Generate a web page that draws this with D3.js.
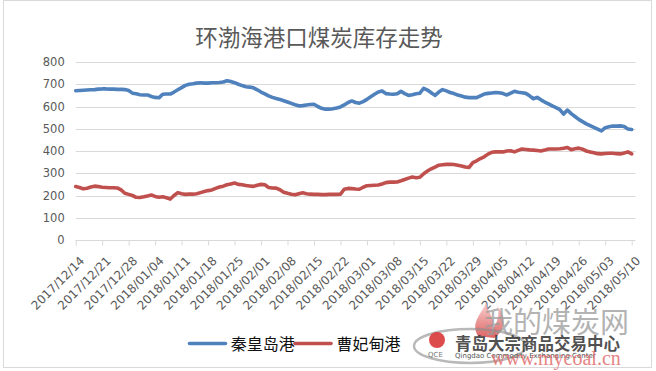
<!DOCTYPE html>
<html><head><meta charset="utf-8">
<script src="https://cdn.jsdelivr.net/npm/d3@7"></script>
<style>body{margin:0;background:#fff;}svg{display:block;}</style>
</head><body><svg id="c" width="656" height="371"></svg>
<script>
const chartTitle = "环渤海港口煤炭库存走势";
const seriesNames = ["秦皇岛港", "曹妃甸港"];
const seriesColors = ["#4F81BD", "#C0504D"];
const startDate = "2017/12/14";
// daily stocks (10k t), 2017/12/14 .. 2018/05/10
const qinhuangdao = [
671,672,673,674,675,676,678,679,679,678,
678,677,677,676,672,660,657,653,652,652,
645,641,639,655,656,656,665,675,685,695,
700,702,705,707,705,705,707,707,708,710,
716,712,707,700,694,689,687,684,675,665,
657,648,641,636,632,626,620,614,608,603,
604,607,609,610,600,592,588,588,590,593,
598,607,618,625,618,615,622,632,644,655,
665,670,658,656,655,657,668,658,650,653,
657,660,682,674,662,650,665,676,670,663,
658,652,647,642,640,640,640,648,656,659,
661,663,662,658,652,660,668,664,662,659,
648,635,641,630,620,612,603,595,586,566,
584,568,555,542,532,522,514,506,498,490,
505,509,512,512,513,510,499,497
];
const caofeidian = [
240,236,230,233,238,242,240,237,236,235,
235,234,225,210,205,200,192,191,194,198,
202,196,192,194,190,184,200,213,208,205,
206,206,208,213,218,222,225,232,238,242,
248,252,256,250,248,245,243,241,246,250,
248,236,234,233,226,215,210,206,203,208,
212,208,206,205,205,204,204,205,205,205,
206,228,232,231,229,228,237,244,245,246,
247,252,258,260,260,261,266,272,278,283,
280,282,298,310,320,328,336,338,340,340,
339,336,333,328,326,348,356,366,374,386,
394,396,396,396,400,401,396,403,409,407,
405,404,402,400,404,409,409,409,410,412,
416,406,410,413,408,400,396,392,388,387,
389,390,390,388,387,391,396,387
];
const tickLabels = ["2017/12/14","2017/12/21","2017/12/28","2018/01/04","2018/01/11","2018/01/18","2018/01/25","2018/02/01","2018/02/08","2018/02/15","2018/02/22","2018/03/01","2018/03/08","2018/03/15","2018/03/22","2018/03/29","2018/04/05","2018/04/12","2018/04/19","2018/04/26","2018/05/03","2018/05/10"];
const yTicks = [0,100,200,300,400,500,600,700,800];

const svg = d3.select("#c");
const parse = d3.timeParse("%Y/%m/%d");
const start = parse(startDate);
const dates = qinhuangdao.map((_, i) => d3.timeDay.offset(start, i));
const tickDates = tickLabels.map(parse);

const x = d3.scaleTime().domain([parse("2017/12/14"), parse("2018/05/10")]).range([75.7, 631.7]);
const y = d3.scaleLinear().domain([0, 800]).range([240, 62]);
const plotRight = 635.5;

// outer frame
svg.append("rect").attr("x", 3.5).attr("y", 0.5).attr("width", 648).attr("height", 367)
  .attr("fill", "#fff").attr("stroke", "#d9d9d9");

// title
svg.append("text").attr("x", 319).attr("y", 46).attr("text-anchor", "middle")
  .attr("font-family", "'Noto Sans CJK SC', sans-serif").attr("font-size", 22.5)
  .attr("fill", "#595959").text(chartTitle);

// gridlines
svg.append("g").selectAll("line").data(yTicks.filter(d => d > 0)).join("line")
  .attr("x1", 75.7).attr("x2", plotRight)
  .attr("y1", d => Math.round(y(d)) + 0.5).attr("y2", d => Math.round(y(d)) + 0.5)
  .attr("stroke", "#d9d9d9").attr("stroke-width", 1);

// y labels
const yAxis = d3.axisLeft(y).tickValues(yTicks).tickSize(0).tickPadding(11);
const gy = svg.append("g").attr("transform", "translate(75.7,0)").call(yAxis);
gy.select(".domain").remove();
gy.selectAll("text").attr("font-family", "'DejaVu Sans', sans-serif").attr("font-size", 11.5)
  .attr("fill", "#595959");

// x axis
const xAxis = d3.axisBottom(x).tickValues(tickDates).tickSize(5).tickFormat((d, i) => tickLabels[i]);
const gx = svg.append("g").attr("transform", "translate(0,240.5)").call(xAxis);
gx.select(".domain").remove();
gx.append("line").attr("x1", 75.7).attr("x2", plotRight).attr("stroke", "#d9d9d9");
gx.selectAll(".tick line").attr("stroke", "#d9d9d9");
gx.selectAll(".tick text")
  .attr("font-family", "'DejaVu Sans', sans-serif").attr("font-size", 12)
  .attr("fill", "#595959")
  .attr("text-anchor", "end")
  .attr("y", 0).attr("dy", 0)
  .attr("transform", "translate(9,21) rotate(-45)");

// lines
const line = d3.line().x((d, i) => x(dates[i])).y(d => y(d));
[qinhuangdao, caofeidian].forEach((s, k) => {
  svg.append("path").datum(s).attr("d", line).attr("fill", "none")
    .attr("stroke", seriesColors[k]).attr("stroke-width", 3.6)
    .attr("stroke-linejoin", "round").attr("stroke-linecap", "round");
});

// legend
const legendPos = [{lx: 189.5, tx: 230.7}, {lx: 295, tx: 336.5}];
seriesNames.forEach((n, k) => {
  svg.append("line").attr("x1", legendPos[k].lx).attr("x2", legendPos[k].lx + 36)
    .attr("y1", 343.5).attr("y2", 343.5).attr("stroke", seriesColors[k])
    .attr("stroke-width", 3.6).attr("stroke-linecap", "round");
  svg.append("text").attr("x", legendPos[k].tx).attr("y", 349.5)
    .attr("font-family", "'Noto Sans CJK SC', sans-serif").attr("font-size", 16)
    .attr("fill", "#111").text(n);
});

// watermark
const wm = svg.append("g");
const grad = svg.append("defs").append("linearGradient").attr("id", "fl")
  .attr("x1", 0).attr("y1", 1).attr("x2", 0).attr("y2", 0);
grad.append("stop").attr("offset", "0%").attr("stop-color", "#d32f2f");
grad.append("stop").attr("offset", "100%").attr("stop-color", "#f8c8c8");
wm.append("path").attr("d", "M478,336 C470,322 482,314 486,302 C488,314 496,318 492,330 C498,322 500,314 497,306 C508,318 504,332 494,338 Z")
  .attr("fill", "url(#fl)").attr("opacity", 0.75);
wm.append("ellipse").attr("cx", 470).attr("cy", 346).attr("rx", 56).attr("ry", 17)
  .attr("fill", "none").attr("stroke", "#8a8a8a").attr("stroke-width", 2.5).attr("opacity", 0.6);
wm.append("circle").attr("cx", 437).attr("cy", 340).attr("r", 8).attr("fill", "#d9383a").attr("opacity", 0.9);
wm.append("text").attr("x", 428).attr("y", 357).attr("font-family", "'DejaVu Sans', sans-serif")
  .attr("font-size", 7).attr("fill", "#777").text("QCE");
wm.append("text").attr("x", 484).attr("y", 333).attr("font-family", "'Noto Sans CJK SC', sans-serif")
  .attr("font-size", 29).attr("fill", "#9a9a9a").attr("opacity", 0.75).text("我的煤炭网");
wm.append("text").attr("x", 455).attr("y", 350).attr("font-family", "'Noto Sans CJK SC', sans-serif")
  .attr("font-size", 16.5).attr("font-weight", "bold").attr("fill", "#333").attr("opacity", 0.85).text("青岛大宗商品交易中心");
wm.append("text").attr("x", 455).attr("y", 357.5).attr("font-family", "'DejaVu Sans', sans-serif")
  .attr("font-size", 7).attr("fill", "#555").text("Qingdao Commodity Exchanging Center");
wm.append("text").attr("x", 491).attr("y", 365).attr("font-family", "'Liberation Serif', serif")
  .attr("font-size", 20).attr("fill", "#e06666").attr("opacity", 0.8).text("www.mycoal.cn");
</script>
</body></html>
